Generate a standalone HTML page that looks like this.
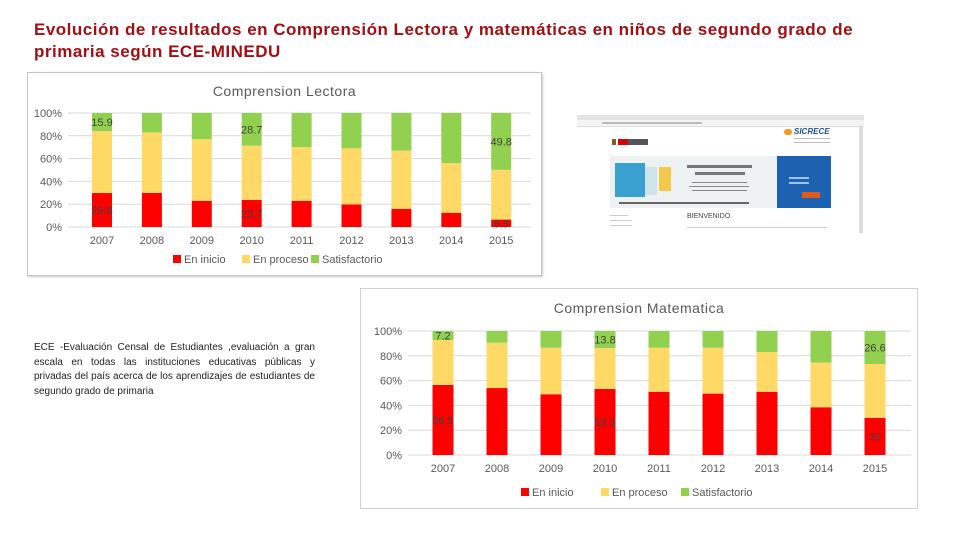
<!DOCTYPE html>
<html><head><meta charset="utf-8">
<style>
body{margin:0;width:960px;height:540px;background:#fff;position:relative;overflow:hidden;font-family:"Liberation Sans",sans-serif}
.title{position:absolute;left:34px;top:19px;color:#a10f14;font-weight:bold;font-size:17px;letter-spacing:0.5px;line-height:22px;width:900px;white-space:nowrap}
.desc{position:absolute;left:34px;top:341px;width:281px;font-size:10px;line-height:14.5px;color:#222;text-align:justify}
.chartbox{position:absolute;border:1px solid #d0d0d0;background:#fff}
svg text{font-family:"Liberation Sans",sans-serif}
.shot{position:absolute;left:577px;top:115px;width:287px;height:118px;background:#fff;overflow:hidden}
.ln{position:absolute;height:2px;background:#bbb}
</style></head><body>
<div class="title">Evolución de resultados en Comprensión Lectora y matemáticas en niños de segundo grado de<br>primaria según ECE-MINEDU</div>
<div class="desc">ECE -Evaluación Censal de Estudiantes ,evaluación a gran escala en todas las instituciones educativas públicas y privadas del país acerca de los aprendizajes de estudiantes de segundo grado de primaria</div>

<div class="chartbox" style="left:27px;top:72px;width:513px;height:202px;border-color:#c4c4c4;box-shadow:1px 1px 2px #ccc"><svg id="c1" width="513" height="202"></svg></div>
<div class="chartbox" style="left:360px;top:288px;width:556px;height:219px"><svg id="c2" width="556" height="219"></svg></div>

<div class="shot">
 <div style="position:absolute;left:0;top:0;width:287px;height:5px;background:#e4e4e4"></div>
 <div style="position:absolute;left:0;top:5px;width:287px;height:6px;background:#f4f4f4;border-bottom:1px solid #ddd"></div>
 <div class="ln" style="left:25px;top:7px;width:100px;height:2px"></div>
 <div style="position:absolute;left:35px;top:24px;width:4px;height:6px;background:#8a5a20"></div>
 <div style="position:absolute;left:41px;top:24px;width:10px;height:6px;background:#d00"></div>
 <div style="position:absolute;left:51px;top:24px;width:20px;height:6px;background:#555"></div>
 <div style="position:absolute;left:207px;top:14px;width:8px;height:6px;border-radius:3px;background:#f39a1e"></div>
 <div style="position:absolute;left:217px;top:12px;font-size:8px;font-weight:bold;font-style:italic;color:#1a4f9c">SICRECE</div>
 <div class="ln" style="left:217px;top:23px;width:36px;height:1px"></div>
 <div class="ln" style="left:217px;top:27px;width:36px;height:1px"></div>
 <div style="position:absolute;left:33px;top:41px;width:221px;height:52px;background:#eef1f2"></div>
 <div style="position:absolute;left:38px;top:48px;width:30px;height:34px;background:#3aa0d0"></div>
 <div style="position:absolute;left:68px;top:52px;width:12px;height:28px;background:#cfe3ea"></div>
 <div style="position:absolute;left:82px;top:52px;width:12px;height:24px;background:#f4c84a"></div>
 <div class="ln" style="left:110px;top:50px;width:65px;height:3px;background:#777"></div>
 <div class="ln" style="left:118px;top:57px;width:50px;height:3px;background:#777"></div>
 <div class="ln" style="left:115px;top:67px;width:55px;height:1px;background:#888"></div>
 <div class="ln" style="left:112px;top:71px;width:60px;height:1px;background:#888"></div>
 <div class="ln" style="left:115px;top:75px;width:55px;height:1px;background:#888"></div>
 <div class="ln" style="left:42px;top:87px;width:130px;height:2px;background:#666"></div>
 <div style="position:absolute;left:200px;top:41px;width:54px;height:52px;background:#1d62b0"></div>
 <div style="position:absolute;left:225px;top:77px;width:18px;height:6px;background:#e05a20"></div>
 <div class="ln" style="left:212px;top:62px;width:20px;height:2px;background:#9cc3ec"></div>
 <div class="ln" style="left:212px;top:67px;width:20px;height:2px;background:#9cc3ec"></div>
 <div class="ln" style="left:33px;top:100px;width:18px;height:1px;background:#ccc"></div>
 <div class="ln" style="left:33px;top:105px;width:22px;height:1px;background:#ccc"></div>
 <div class="ln" style="left:33px;top:110px;width:22px;height:1px;background:#ccc"></div>
 <div style="position:absolute;left:110px;top:98px;font-size:7px;color:#444">BIENVENIDO</div>
 <div class="ln" style="left:110px;top:112px;width:140px;height:1px;background:#ccc"></div>
 <div style="position:absolute;left:282px;top:12px;width:4px;height:106px;background:#ddd"></div>
</div>

<script>
// Comprensión lectora data
const years = ["2007","2008","2009","2010","2011","2012","2013","2014","2015"];
const lecInicio = [29.8,30,23,23.7,23,19.8,16,12.5,6.5];
const lecSatis = [15.9,17,23,28.7,30,31,33,44,49.8];
const lecProceso = [54.3,53,54,47.6,47,49.2,51,43.5,43.7];
// Comprensión matemática data
const matInicio = [56.5,54,49,53.3,51,49.5,51,38.5,30];
const matSatis = [7.2,9.5,13.5,13.8,13.5,13.5,17,25.5,26.6];
const matProceso = [36.3,36.5,37.5,32.9,35.5,37,32,36,43.4];
const ticks = [0,20,40,60,80,100];
const legendNames = ["En inicio","En proceso","Satisfactorio"];
const colors = ["#ff0000","#ffd966","#92d050"];

const NS="http://www.w3.org/2000/svg";
function mk(svg,tag,attrs,text){const e=document.createElementNS(NS,tag);for(const k in attrs)e.setAttribute(k,attrs[k]);if(text!==undefined)e.textContent=text;svg.appendChild(e);return e;}

function draw(id,cfg,title,inicio,proceso,satis,labelIdx){
  const svg=document.getElementById(id);
  const y=v=>cfg.y0-(v/100)*(cfg.y0-cfg.y100);
  const x=i=>cfg.x0+i*cfg.step;
  let t=mk(svg,'text',{x:cfg.w/2,y:cfg.ty,'text-anchor':'middle','font-size':cfg.tfs,fill:'#595959','letter-spacing':'0.5'},title);
  
  
  ticks.forEach(v=>{
    const g=mk(svg,'line',{x1:cfg.ax1,x2:cfg.ax2,y1:y(v),y2:y(v),stroke:'#d9d9d9','stroke-width':1});
    
    
    const l=mk(svg,'text',{x:cfg.ax1-6,y:y(v)+4,'text-anchor':'end','font-size':11,fill:'#595959'},v+'%');
    
    
  });
  years.forEach((yr,i)=>{
    const segs=[inicio[i],100-inicio[i]-satis[i],satis[i]];
    let acc=0;
    segs.forEach((s,k)=>{
      const r=mk(svg,'rect',{x:x(i)-cfg.bw/2,y:y(acc+s),width:cfg.bw,height:y(acc)-y(acc+s),fill:colors[k]});
      
      
      acc+=s;
    });
    const xl=mk(svg,'text',{x:x(i),y:cfg.y0+17,'text-anchor':'middle','font-size':11,fill:'#595959'},yr);
    
    
    if(labelIdx.includes(i)){
      const a=mk(svg,'text',{x:x(i),y:y(inicio[i]/2)+4,'text-anchor':'middle','font-size':11,fill:'#404040'},inicio[i]);
      
      
      const b=mk(svg,'text',{x:x(i),y:y(100-satis[i]/2)+4,'text-anchor':'middle','font-size':11,fill:'#404040'},satis[i]);
      
      
    }
  });
  legendNames.forEach((n,k)=>{
    const lx=cfg.lx+k*cfg.lstep;
    const s=mk(svg,'rect',{x:lx,y:cfg.ly-7,width:8,height:8,fill:colors[k]});
    
    
    const tt=mk(svg,'text',{x:lx+11,y:cfg.ly+1,'font-size':11,fill:'#595959'},n);
    
    
  });
}
draw('c1',{w:513,ty:23,tfs:14,y0:154,y100:40,x0:74,step:49.9,bw:20,ax1:40,ax2:503,lx:145,lstep:69,ly:189},
  'Comprension Lectora',lecInicio,lecProceso,lecSatis,[0,3,8]);
draw('c2',{w:556,ty:24,tfs:14,y0:166,y100:42,x0:82,step:54,bw:21,ax1:47,ax2:550,lx:160,lstep:80,ly:206},
  'Comprension Matematica',matInicio,matProceso,matSatis,[0,3,8]);
</script>
</body></html>
